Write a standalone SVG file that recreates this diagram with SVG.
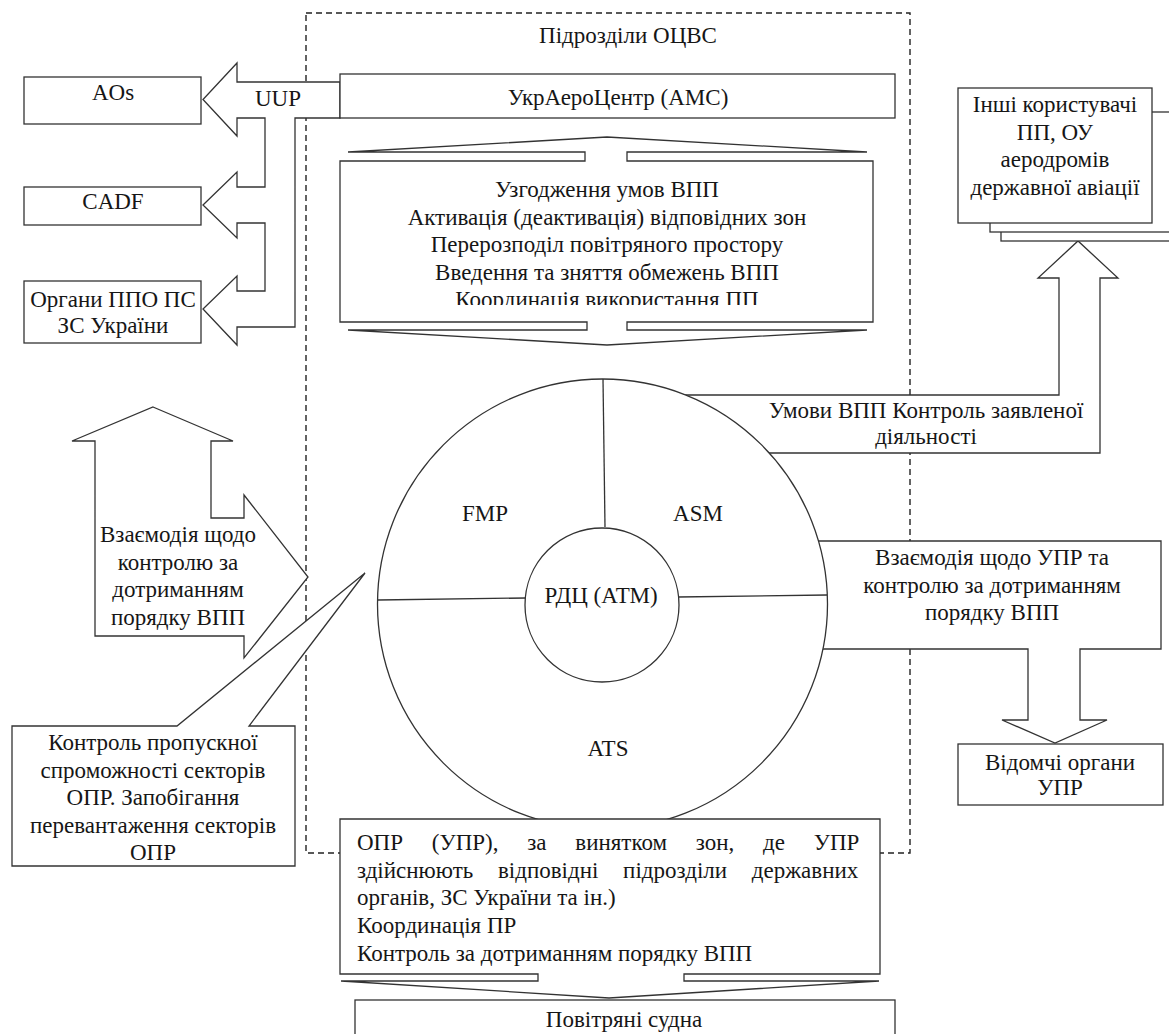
<svg xmlns="http://www.w3.org/2000/svg" width="1169" height="1034" viewBox="0 0 1169 1034">
<defs>
<style>
.t{font-family:"Liberation Serif","Times New Roman",serif;font-size:23px;fill:#161616}
.c{text-anchor:middle}
.s{fill:#fff;stroke:#333;stroke-width:1.3;stroke-linejoin:miter}
.l{fill:none;stroke:#333;stroke-width:1.3}
.d{fill:none;stroke:#222;stroke-width:1.4;stroke-dasharray:6 4}
</style>
<clipPath id="clipTop"><rect x="330" y="150" width="560" height="155"/></clipPath>
</defs>
<rect width="1169" height="1034" fill="#fff"/>

<g id="frame">
<rect class="d" x="306" y="13" width="604" height="840"/>
<text class="t c" x="628" y="43">Підрозділи ОЦВС</text>
</g>

<g id="connectors">
<path id="uup-arrow" class="s" d="M340,82 L237,82 L237,63 L203,99.5 L237,136 L237,118 L265,118 L265,187 L237,187 L237,172 L203,205 L237,238 L237,223 L265,223 L265,291 L237,291 L237,276 L203,309 L237,345 L237,327 L295,327 L295,118 L340,118 Z"/>
<text class="t c" x="278" y="106">UUP</text>
<path id="left-arrow" class="s" d="M153,407 L233,441 L211,441 L211,518 L244,518 L244,495 L308,577 L244,658 L244,636 L95,636 L95,441 L72,441 Z"/>
<path id="umovy-arrow" class="s" d="M602,395 L1059,395 L1059,278 L1038,278 L1078,241 L1118,278 L1100,278 L1100,453 L602,453 Z"/>
<path id="upr-arrow" class="s" d="M602,541 L1161,541 L1161,649 L1080,649 L1080,720 L1107,720 L1055,743 L1002,720 L1028,720 L1028,649 L602,649 Z"/>
</g>

<g id="left-arrow-text">
<text class="t c" x="178" y="542">Взаємодія щодо</text>
<text class="t c" x="178" y="569.5">контролю за</text>
<text class="t c" x="178" y="597">дотриманням</text>
<text class="t c" x="178" y="624.5">порядку ВПП</text>
</g>

<g id="umovy-text">
<text class="t c" x="926" y="418">Умови ВПП Контроль заявленої</text>
<text class="t c" x="926" y="444">діяльності</text>
</g>

<g id="upr-text">
<text class="t c" x="992" y="565">Взаємодія щодо УПР та</text>
<text class="t c" x="992" y="593">контролю за дотриманням</text>
<text class="t c" x="992" y="620">порядку ВПП</text>
</g>

<g id="aos">
<rect class="s" x="24" y="77" width="177" height="47"/>
<text class="t c" x="113" y="100">AOs</text>
</g>
<g id="cadf">
<rect class="s" x="24" y="187" width="177" height="38"/>
<text class="t c" x="113" y="209">CADF</text>
</g>
<g id="ppo">
<rect class="s" x="24" y="281" width="177" height="62"/>
<text class="t c" x="113" y="307">Органи ППО ПС</text>
<text class="t c" x="113" y="333">ЗС України</text>
</g>

<g id="ukraerocentr">
<rect class="s" x="340" y="74" width="555" height="44"/>
<text class="t c" x="618" y="105">УкрАероЦентр (АМС)</text>
</g>

<g id="asm-tasks">
<path class="s" d="M340,161 L585,161 L585,152 L348,152 L607,137 L867,152 L627,152 L627,161 L873,161 L873,322 L627,322 L627,330 L867,330 L607,345 L348,330 L587,330 L587,322 L340,322 Z"/>
<g clip-path="url(#clipTop)">
<text class="t c" x="607" y="197">Узгодження умов ВПП</text>
<text class="t c" x="607" y="224.5">Активація (деактивація) відповідних зон</text>
<text class="t c" x="607" y="252">Перерозподіл повітряного простору</text>
<text class="t c" x="607" y="279.5">Введення та зняття обмежень ВПП</text>
<text class="t c" x="607" y="307">Координація використання ПП</text>
</g>
</g>

<g id="other-users">
<rect class="s" x="1001" y="123" width="180" height="118"/>
<rect class="s" x="990" y="112" width="190" height="120"/>
<rect class="s" x="958" y="88" width="194" height="135"/>
<text class="t c" x="1055" y="112">Інші користувачі</text>
<text class="t c" x="1055" y="139.5">ПП, ОУ</text>
<text class="t c" x="1055" y="167">аеродромів</text>
<text class="t c" x="1055" y="194.5">державної авіації</text>
</g>

<g id="rdc">
<circle class="s" cx="602.5" cy="604" r="225"/>
<line class="l" x1="603" y1="379" x2="605" y2="527"/>
<line class="l" x1="378" y1="600" x2="526" y2="598"/>
<line class="l" x1="678" y1="597" x2="827" y2="595"/>
<circle class="s" cx="602" cy="605" r="77"/>
<text class="t c" x="485" y="521">FMP</text>
<text class="t c" x="698" y="521">ASM</text>
<text class="t c" x="601" y="603">РДЦ (АТМ)</text>
<text class="t c" x="608" y="756">ATS</text>
</g>

<g id="vidomchi">
<rect class="s" x="958" y="744" width="205" height="61"/>
<text class="t c" x="1060" y="770">Відомчі органи</text>
<text class="t c" x="1060" y="795">УПР</text>
</g>

<g id="callout">
<path class="s" d="M12,726 L177,726 L365,573 L249,726 L295,726 L295,866 L12,866 Z"/>
<text class="t c" x="153" y="750">Контроль пропускної</text>
<text class="t c" x="153" y="777.5">спроможності секторів</text>
<text class="t c" x="153" y="805">ОПР. Запобігання</text>
<text class="t c" x="153" y="832.5">перевантаження секторів</text>
<text class="t c" x="153" y="860">ОПР</text>
</g>

<g id="opr">
<path class="s" d="M340,819 L880,819 L880,974 L684,974 L684,981 L879,981 L609,998 L341,981 L538,981 L538,974 L340,974 Z"/>
<text class="t" x="357" y="850" word-spacing="23">ОПР (УПР), за винятком зон, де УПР</text>
<text class="t" x="357" y="877.5" word-spacing="19">здійснюють відповідні підрозділи державних</text>
<text class="t" x="357" y="905">органів, ЗС України та ін.)</text>
<text class="t" x="357" y="933">Координація ПР</text>
<text class="t" x="357" y="961">Контроль за дотриманням порядку ВПП</text>
</g>

<g id="aircraft">
<rect class="s" x="355" y="1000" width="540" height="50"/>
<text class="t c" x="624" y="1027">Повітряні судна</text>
</g>
</svg>
